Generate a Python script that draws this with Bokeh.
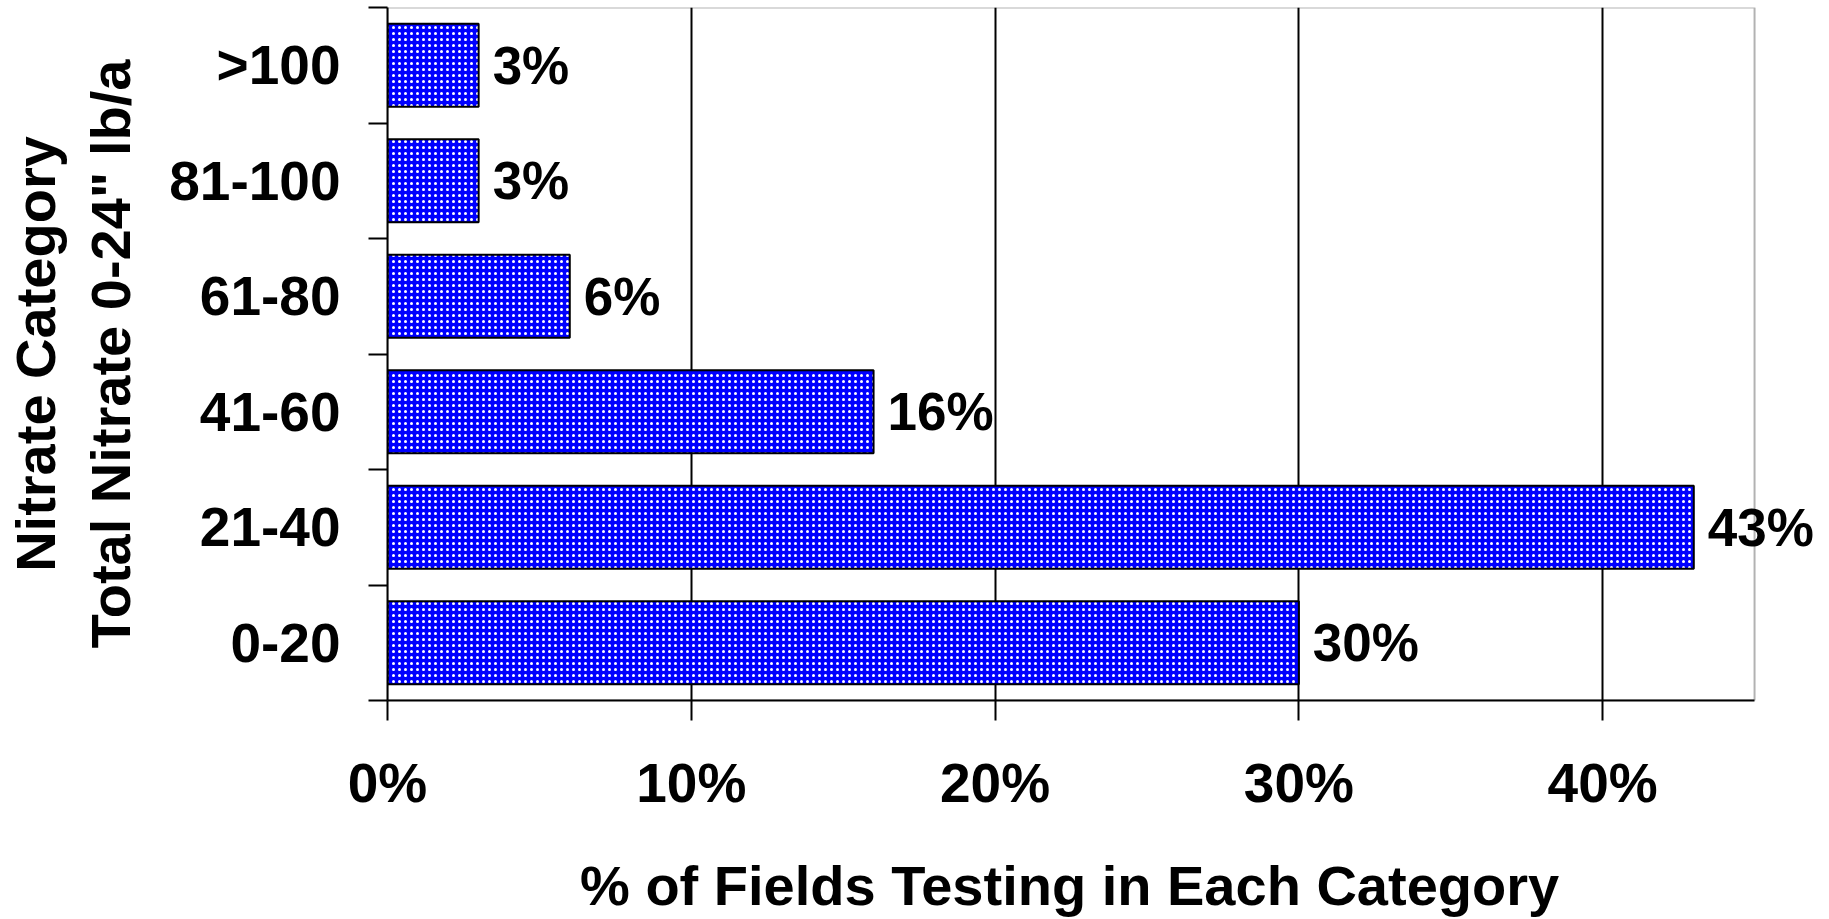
import numpy as np
from bokeh.plotting import figure
from bokeh.models import (Range1d, FixedTicker, PrintfTickFormatter,
                          LabelSet, ColumnDataSource, BoxAnnotation)
from bokeh.core.properties import value
from bokeh.embed import file_html
from bokeh.resources import INLINE

# ---- data ----
categories = ["0-20", "21-40", "41-60", "61-80", "81-100", ">100"]
percent = [30, 43, 16, 6, 3, 3]
value_labels = ["30%", "43%", "16%", "6%", "3%", "3%"]
x_ticks = [0, 10, 20, 30, 40]
x_box_max = 45
x_title = "% of Fields Testing in Each Category"
y_title_1 = "Nitrate Category"
y_title_2 = 'Total Nitrate 0-24" lb/a'

FONT = "Liberation Sans"
W, H = 1829, 919
LEFT, TOP, BOTTOM = 386, 7, 217
BOX_RIGHT_PX = 1754
centers = [float(v) for v in np.arange(len(categories)) + 0.5]
bounds = list(range(len(categories) + 1))
x_end = x_box_max * (W - LEFT) / (BOX_RIGHT_PX - LEFT)

src = ColumnDataSource(dict(y=centers, x=percent, lab=value_labels))

p = figure(width=W, height=H, output_backend="svg", toolbar_location=None,
           x_range=Range1d(0, x_end), y_range=Range1d(0, len(categories)),
           min_border_left=LEFT, min_border_right=0, min_border_top=TOP,
           min_border_bottom=BOTTOM)
p.background_fill_color = "white"
p.border_fill_color = "white"
p.outline_line_color = None

p.hbar(y="y", right="x", left=0, height=0.72, source=src,
       fill_color="#0000FF", line_color="black", line_width=2,
       hatch_pattern="dot", hatch_color="white", hatch_scale=6, hatch_weight=4)

# plot-area box (0..45 %), the frame itself is wider so that "43%" is not clipped
p.add_layout(BoxAnnotation(left=0, right=x_box_max, bottom=0, top=len(categories),
                           fill_alpha=0, fill_color=None, line_color="black",
                           line_width=2))

ls = LabelSet(x="x", y="y", text="lab", source=src, x_offset=14,
              text_baseline="middle", text_align="left",
              text_font=value(FONT), text_font_style="bold",
              text_font_size="53px", text_color="black")
p.add_layout(ls)

# x axis
xa = p.xaxis[0]
xa.bounds = (0, x_box_max)
xa.ticker = FixedTicker(ticks=x_ticks, minor_ticks=[])
xa.formatter = PrintfTickFormatter(format="%d%%")
xa.axis_line_color = "black"
xa.axis_line_width = 2
xa.major_tick_line_color = "black"
xa.major_tick_line_width = 2
xa.major_tick_out = 20
xa.major_tick_in = 0
xa.minor_tick_line_color = None
xa.major_label_standoff = 31
xa.major_label_text_font = FONT
xa.major_label_text_font_style = "bold"
xa.major_label_text_font_size = "55px"
xa.major_label_text_color = "black"
xa.axis_label = x_title + "\u00a0" * 5
xa.axis_label_standoff = 37
xa.axis_label_text_font = FONT
xa.axis_label_text_font_style = "bold"
xa.axis_label_text_font_size = "56px"
xa.axis_label_text_color = "black"

# y axis: labels at category centres, ticks at category boundaries
ya = p.yaxis[0]
ya.ticker = FixedTicker(ticks=centers, minor_ticks=bounds)
ya.major_label_overrides = {c: cat for c, cat in zip(centers, categories)}
ya.axis_line_color = "black"
ya.axis_line_width = 2
ya.major_tick_line_color = None
ya.major_tick_out = 0
ya.major_tick_in = 0
ya.minor_tick_line_color = "black"
ya.minor_tick_line_width = 2
ya.minor_tick_out = 19
ya.minor_tick_in = 0
ya.major_label_standoff = 28
ya.major_label_text_font = FONT
ya.major_label_text_font_style = "bold"
ya.major_label_text_font_size = "55px"
ya.major_label_text_color = "black"
ya.axis_label = y_title_1 + "\n" + y_title_2
ya.axis_label_standoff = 24
ya.axis_label_text_font = FONT
ya.axis_label_text_font_style = "bold"
ya.axis_label_text_font_size = "56px"
ya.axis_label_text_color = "black"

p.xgrid.ticker = FixedTicker(ticks=x_ticks)
p.xgrid.grid_line_color = "black"
p.xgrid.grid_line_width = 2
p.ygrid.grid_line_color = None

open("out.html", "w").write(file_html(p, INLINE))
